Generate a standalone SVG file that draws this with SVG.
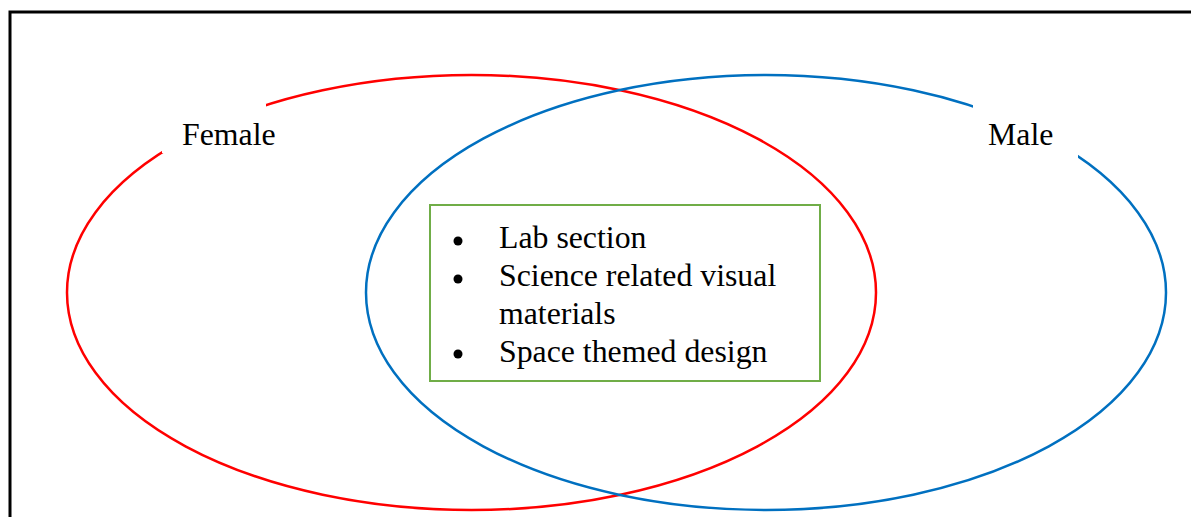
<svg xmlns="http://www.w3.org/2000/svg" width="1191" height="517" viewBox="0 0 1191 517">
<style>
.t{font-family:"Liberation Serif","Times New Roman",serif;font-size:31.8px;fill:#000}
.lab{fill:#fff;stroke:none}
</style>
<rect x="0" y="0" width="1191" height="517" fill="#fff"/>
<rect id="frame" x="10" y="12" width="1200" height="520" fill="none" stroke="#000" stroke-width="3"/>
<g id="female">
<ellipse cx="471.5" cy="292.5" rx="404.5" ry="217.5" fill="none" stroke="#ff0000" stroke-width="2.5"/>
</g>
<g id="male">
<ellipse cx="766" cy="292.5" rx="400" ry="217.5" fill="none" stroke="#0070c0" stroke-width="2.5"/>
</g>
<g id="female-label">
<rect class="lab" x="162" y="104" width="104" height="49"/>
<text class="t" x="182" y="145">Female</text>
</g>
<g id="male-label">
<rect class="lab" x="973" y="104" width="105" height="54"/>
<text class="t" x="988" y="145">Male</text>
</g>
<g id="common">
<rect x="430" y="205" width="390" height="176" fill="#fff" stroke="#70ad47" stroke-width="2"/>
<circle cx="458" cy="241" r="4.5"/>
<circle cx="458" cy="279" r="4.5"/>
<circle cx="458" cy="354" r="4.5"/>
<text class="t" x="499" y="248">Lab section</text>
<text class="t" x="499" y="286">Science related visual</text>
<text class="t" x="499" y="324">materials</text>
<text class="t" x="499" y="362">Space themed design</text>
</g>
<g id="connectors"></g>
</svg>
